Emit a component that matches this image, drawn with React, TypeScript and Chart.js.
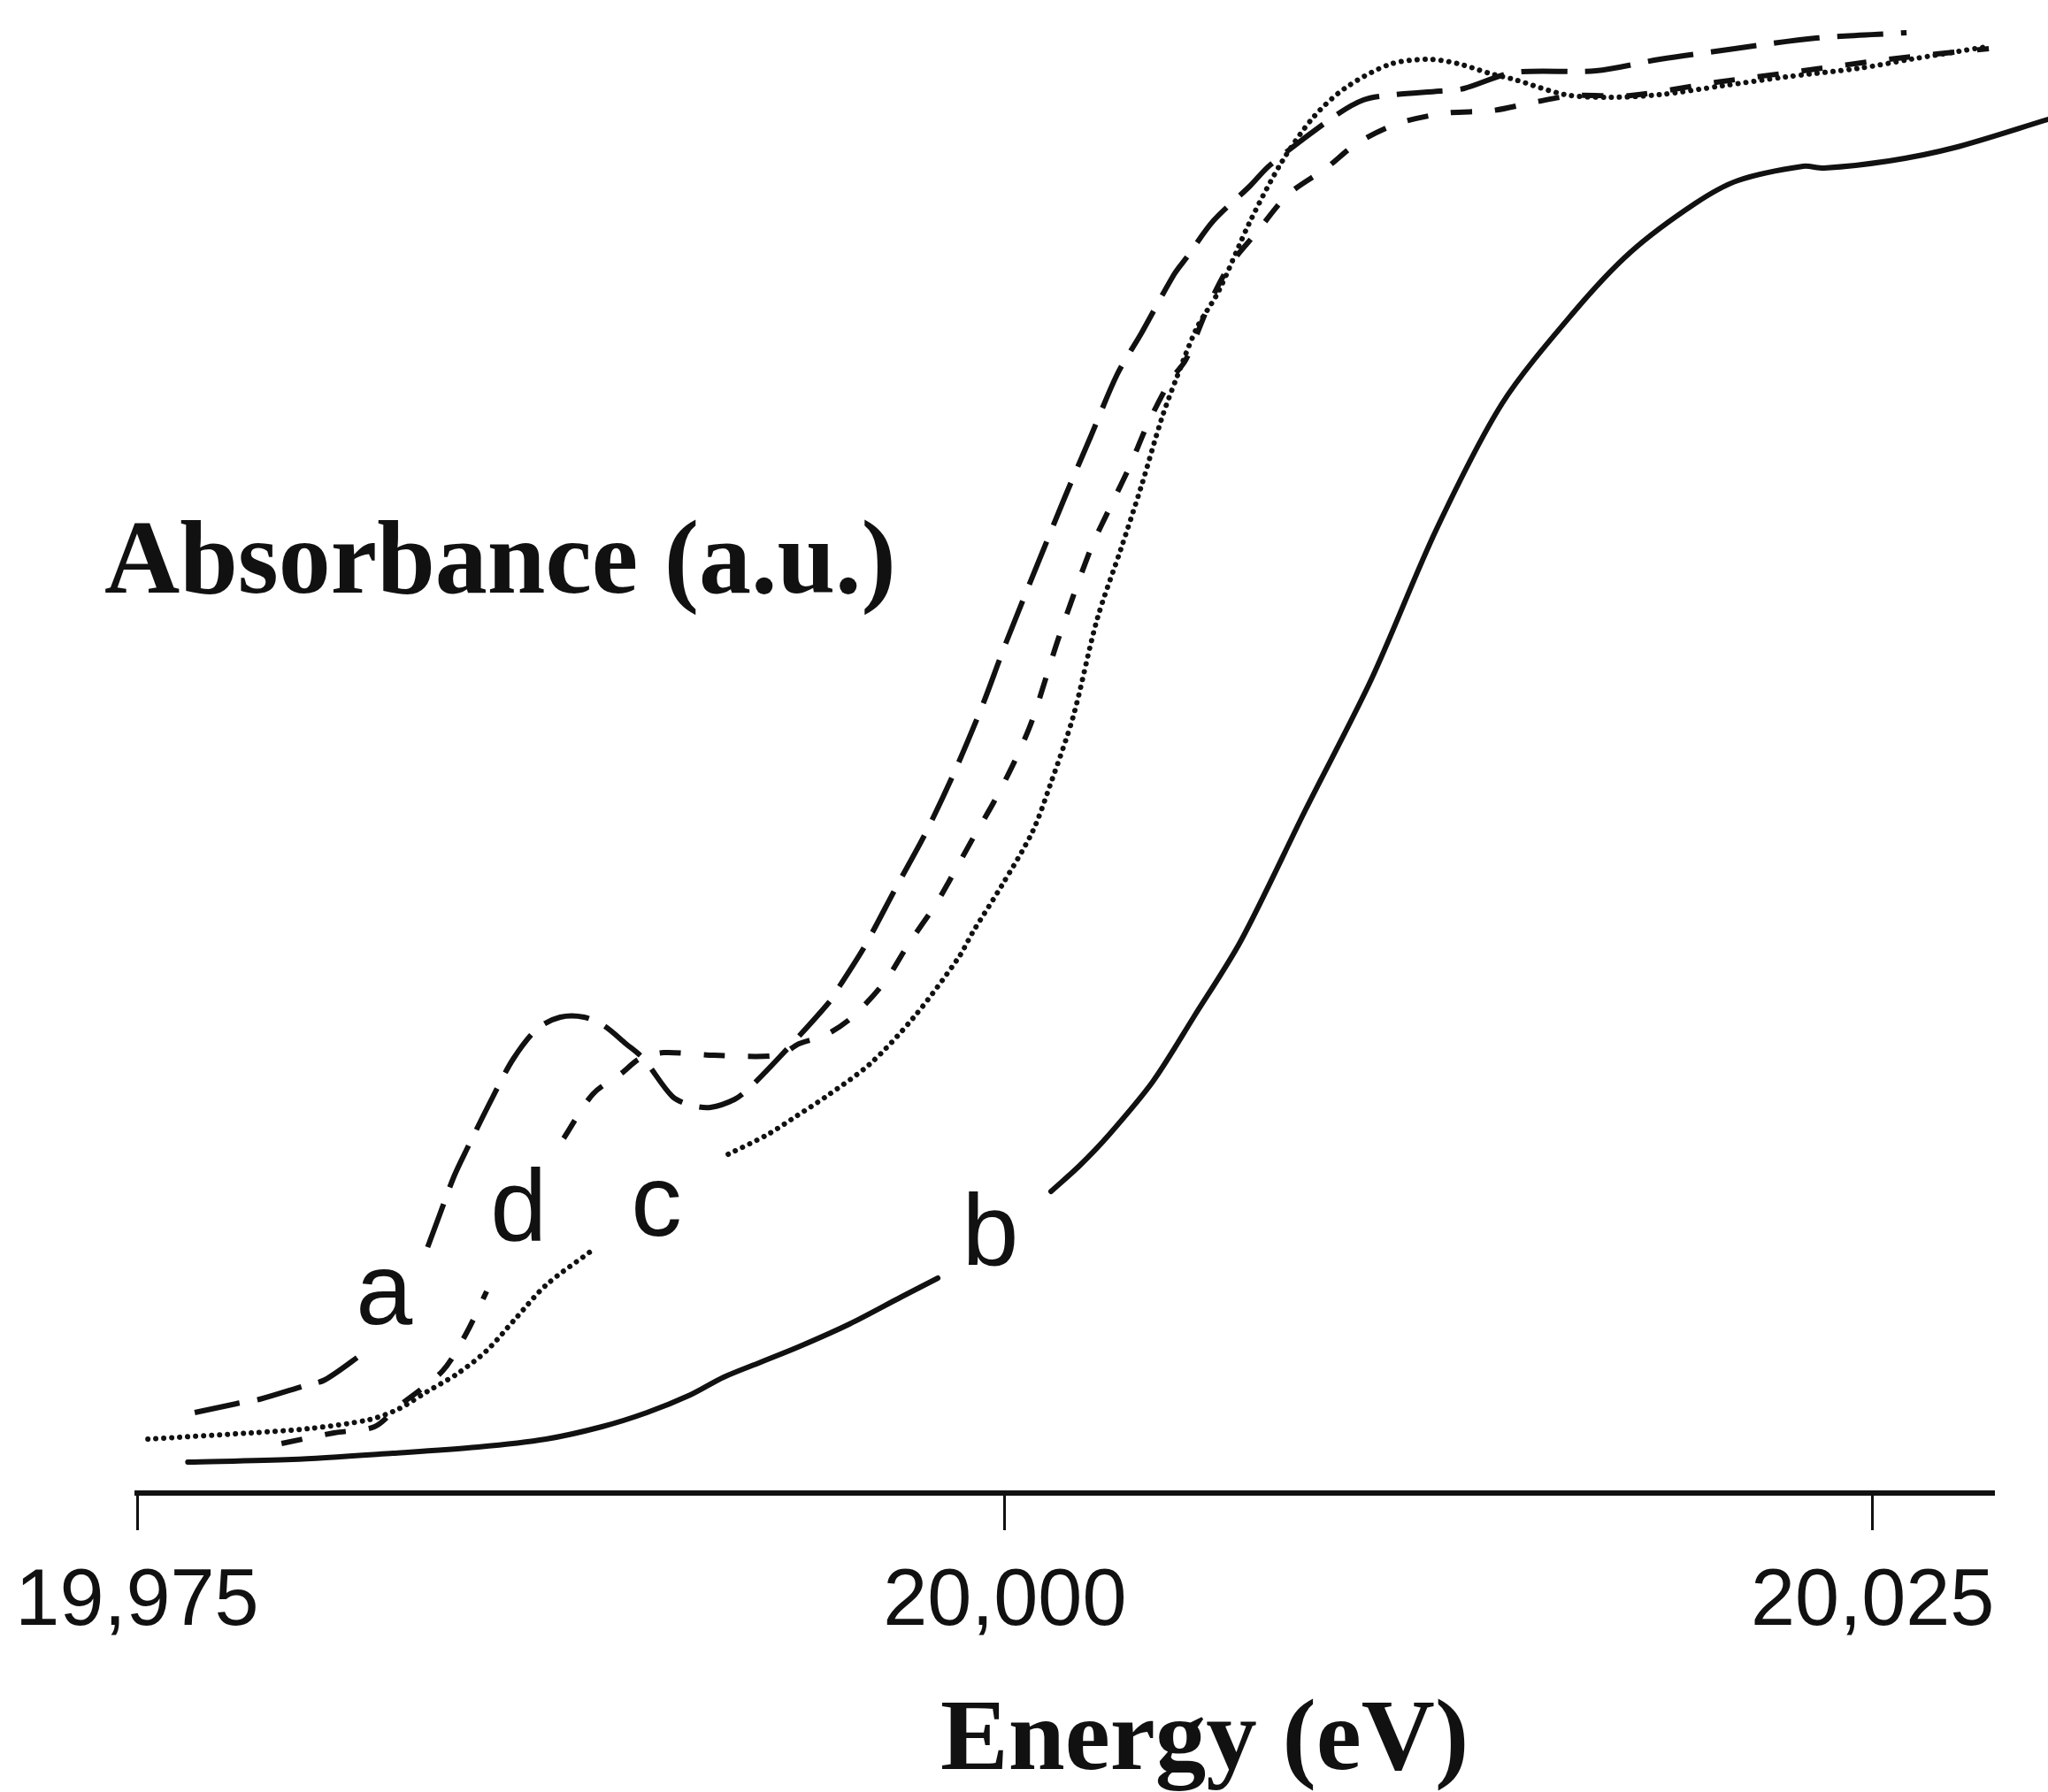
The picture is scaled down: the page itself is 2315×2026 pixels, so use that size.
import React, { useEffect, useRef } from "react";
import { Chart, registerables } from "chart.js";

Chart.register(...registerables);

// X-axis tick values (eV)
const energyTicks = [19975, 20000, 20025];

// Curve a (long dash) — null marks the break where label "a" sits
const aEnergy = [19976.66, 19977.86, 19978.53, 19979.8, 19980.41, 19981.51, 19982.5, 19983.37, 19983.72, 19984.13, 19984.49, 19985.25, 19985.84, 19986.53, 19987.19, 19987.88, 19988.46, 19989.08, 19989.59, 19990.43, 19991.01, 19991.52, 19992.21, 19992.64, 19993.56, 19994.94, 19995.27, 19995.96, 19996.87, 19997.74, 19998.58, 19999.35, 20000.03, 20001.72, 20002.48, 20003.24, 20003.93, 20004.88, 20005.26, 20006.0, 20007.07, 20007.63, 20009.44, 20010.33, 20011.25, 20012.52, 20013.23, 20014.66, 20017.03, 20018.87, 20021.03, 20023.38, 20025.98];
const aAbs = [0.091, 0.101, 0.106, 0.121, 0.128, 0.158, null, 0.278, 0.315, 0.358, 0.388, 0.448, 0.491, 0.525, 0.538, 0.538, 0.528, 0.508, 0.491, 0.448, 0.438, 0.436, 0.445, 0.458, 0.495, 0.555, 0.575, 0.618, 0.685, 0.748, 0.818, 0.89, 0.961, 1.125, 1.195, 1.265, 1.311, 1.378, 1.398, 1.438, 1.478, 1.501, 1.555, 1.575, 1.581, 1.585, 1.588, 1.606, 1.608, 1.621, 1.633, 1.645, 1.651];

// Curve b (solid)
const bEnergy = [19976.46, 19979.47, 19982.37, 19984.82, 19986.78, 19988.39, 19989.69, 19990.94, 19991.9, 19992.97, 19994.1, 19995.52, 19997.03, 19998.07, 19999.6, 20001.33, 20002.15, 20003.0, 20004.26, 20005.44, 20006.81, 20008.67, 20010.56, 20012.44, 20014.33, 20016.39, 20018.03, 20019.89, 20021.13, 20023.0, 20023.61, 20025.47, 20027.35, 20030.05];
const bAbs = [0.035, 0.038, 0.045, 0.052, 0.061, 0.075, 0.091, 0.111, 0.131, 0.148, 0.166, 0.191, 0.222, 0.243, null, 0.341, 0.37, 0.405, 0.465, 0.538, 0.625, 0.773, 0.92, 1.09, 1.232, 1.335, 1.403, 1.458, 1.484, 1.5, 1.498, 1.506, 1.521, 1.553];

// Curve c (dotted)
const cEnergy = [19975.31, 19978.27, 19979.98, 19981.69, 19982.53, 19983.37, 19984.23, 19985.07, 19985.92, 19986.78, 19988.13, 19990.0, 19992.03, 19993.15, 19993.99, 19994.84, 19996.11, 19997.38, 19998.66, 19999.09, 19999.93, 20000.8, 20001.31, 20001.97, 20002.66, 20003.35, 20003.93, 20004.52, 20004.95, 20005.54, 20006.15, 20007.07, 20007.98, 20008.88, 20009.79, 20011.07, 20012.16, 20013.06, 20013.97, 20014.69, 20016.14, 20017.41, 20018.87, 20020.68, 20022.49, 20024.65, 20026.1, 20028.27];
const cAbs = [0.061, 0.068, 0.073, 0.083, 0.095, 0.115, 0.135, 0.161, 0.198, 0.235, 0.275, null, 0.383, 0.405, 0.426, 0.448, 0.485, 0.538, 0.605, 0.635, 0.688, 0.748, 0.801, 0.878, 0.988, 1.068, 1.138, 1.215, 1.261, 1.318, 1.358, 1.438, 1.505, 1.555, 1.588, 1.615, 1.621, 1.616, 1.605, 1.598, 1.581, 1.578, 1.581, 1.591, 1.601, 1.611, 1.621, 1.635];

// Curve d (short dash)
const dEnergy = [19979.16, 19980.67, 19981.84, 19982.53, 19983.8, 19984.49, 19985.07, 19986.2, 19987.29, 19988.13, 19988.97, 19989.48, 19990.17, 19991.62, 19993.48, 19994.07, 19994.84, 19995.6, 19996.54, 19997.23, 19998.0, 19998.4, 19999.09, 19999.68, 20000.29, 20000.8, 20001.56, 20002.48, 20002.99, 20003.6, 20004.11, 20004.77, 20005.21, 20005.9, 20006.48, 20007.25, 20008.16, 20009.26, 20010.15, 20011.3, 20012.67, 20014.05, 20015.32, 20016.39, 20018.03, 20020.5, 20023.0, 20025.47, 20028.35];
const dAbs = [0.056, 0.068, 0.075, 0.098, 0.138, 0.181, 0.228, null, 0.401, 0.451, 0.475, 0.491, 0.498, 0.495, 0.495, 0.508, 0.518, 0.538, 0.578, 0.621, 0.665, 0.692, 0.741, 0.781, 0.828, 0.875, 0.968, 1.068, 1.111, 1.161, 1.208, 1.258, 1.281, 1.345, 1.388, 1.425, 1.468, 1.498, 1.526, 1.548, 1.56, 1.563, 1.573, 1.58, 1.58, 1.595, 1.608, 1.621, 1.633];

// Curve labels, placed in data coordinates
const labelNames = ["a", "b", "c", "d"];
const labelEnergy = [19982.12, 19999.58, 19989.96, 19985.99];
const labelAbs = [0.191, 0.258, 0.291, 0.286];

const xTitle = "Energy (eV)";
const yTitle = "Absorbance (a.u.)";

const toPoints = (xs: number[], ys: (number | null)[]) =>
  xs.map((x, i) => ({ x, y: ys[i] }));

const INK = "#111111";

const textPlugin = {
  id: "figureText",
  afterDraw(chart: any) {
    const { ctx, chartArea, scales } = chart;
    ctx.save();
    ctx.fillStyle = INK;
    ctx.textBaseline = "alphabetic";
    ctx.textAlign = "left";
    ctx.font = 'bold 118px "Liberation Serif", "Times New Roman", serif';
    ctx.fillText(yTitle, chartArea.left - 37, 670);
    ctx.font = 'bold 115px "Liberation Serif", "Times New Roman", serif';
    ctx.fillText(xTitle, 1063, 2000);
    ctx.font = '115px "Liberation Sans", Arial, sans-serif';
    ctx.textAlign = "center";
    labelNames.forEach((name, i) => {
      const px = scales.x.getPixelForValue(labelEnergy[i]);
      const py = scales.y.getPixelForValue(labelAbs[i]);
      ctx.fillText(name, px, py);
    });
    ctx.restore();
  },
};

export default function App() {
  const canvasRef = useRef<HTMLCanvasElement | null>(null);

  useEffect(() => {
    if (!canvasRef.current) return;
    const common = {
      borderColor: INK,
      borderWidth: 6,
      pointRadius: 0,
      fill: false,
      spanGaps: false,
      tension: 0.3,
      clip: false as any,
    };
    const chart = new Chart(canvasRef.current, {
      type: "line",
      data: {
        datasets: [
          { ...common, label: "a", data: toPoints(aEnergy, aAbs), borderDash: [52, 20], borderCapStyle: "butt" },
          { ...common, label: "b", data: toPoints(bEnergy, bAbs), borderCapStyle: "round" },
          { ...common, label: "c", data: toPoints(cEnergy, cAbs), borderDash: [0.01, 9], borderCapStyle: "round", borderWidth: 6 },
          { ...common, label: "d", data: toPoints(dEnergy, dAbs), borderDash: [24, 26], borderCapStyle: "butt" },
        ] as any,
      },
      options: {
        responsive: false,
        animation: false,
        devicePixelRatio: 1,
        layout: { padding: { left: 155, right: 61, top: 18, bottom: 132 } },
        plugins: { legend: { display: false }, tooltip: { enabled: false }, title: { display: false } },
        scales: {
          x: {
            type: "linear",
            min: 19975,
            max: 20028.5,
            afterBuildTicks: (scale: any) => {
              scale.ticks = energyTicks.map((v) => ({ value: v }));
            },
            afterFit: (scale: any) => {
              scale.paddingLeft = 0;
              scale.paddingRight = 0;
            },
            grid: {
              display: true,
              drawOnChartArea: false,
              drawTicks: true,
              tickLength: 42,
              tickWidth: 3,
              tickColor: INK,
            },
            border: { display: true, width: 6, color: INK },
            ticks: {
              autoSkip: false,
              maxRotation: 0,
              padding: 28,
              color: INK,
              font: { family: '"Liberation Sans", Arial, sans-serif', size: 90 },
              callback: (v: any) => Number(v).toLocaleString("en-US"),
            },
          },
          y: { type: "linear", display: false, min: 0, max: 1.67 },
        },
      },
      plugins: [textPlugin],
    });
    return () => chart.destroy();
  }, []);

  return (
    <div style={{ position: "absolute", left: 0, top: 0, width: 2315, height: 2026, background: "#fff" }}>
      <canvas ref={canvasRef} width={2315} height={2026} />
    </div>
  );
}
